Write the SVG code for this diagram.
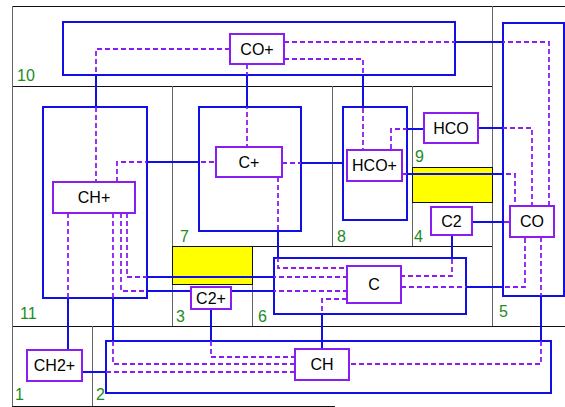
<svg xmlns="http://www.w3.org/2000/svg" width="565" height="407" viewBox="0 0 565 407">
<style>
.cellH{stroke:#111;stroke-width:1;fill:none}
.cellV{stroke:#666;stroke-width:1;fill:none}
.yel{fill:#ffff00;stroke:#111;stroke-width:1}
.comp{fill:none;stroke:#1010e6;stroke-width:2}
.dash{fill:none;stroke:#8a1ef0;stroke-width:1.8;stroke-dasharray:5,3}
.blue{fill:none;stroke:#1010e6;stroke-width:2}
.node rect{fill:#fff;stroke:#8a1ef0;stroke-width:2}
.node text{font-family:"Liberation Sans",Arial,sans-serif;font-size:16px;fill:#000;text-anchor:middle}
.lbl{font-family:"Liberation Sans",Arial,sans-serif;font-size:16px;fill:#228b22}
</style>
<rect width="565" height="407" fill="#fff"/>
<g id="cells">
<path class="cellH" d="M12,6.5H565M12,86.5H492M12,326.5H565M12,406.5H335M252,246.5H492"/>
<path class="cellV" d="M12.5,6V406M492.5,6V326M172.5,86V326M332.5,86V246M412.5,86V246M252.5,246V326M92.5,326V406"/>
<rect class="yel" x="172.5" y="246.5" width="80" height="38"/>
<rect class="yel" x="412.5" y="167.5" width="80" height="35"/>
</g>
<g id="labels">
<text class="lbl" x="17" y="81">10</text>
<text class="lbl" x="20" y="319">11</text>
<text class="lbl" x="180" y="242">7</text>
<text class="lbl" x="176" y="322">3</text>
<text class="lbl" x="258" y="322">6</text>
<text class="lbl" x="15" y="400">1</text>
<text class="lbl" x="96" y="400">2</text>
<text class="lbl" x="337" y="242">8</text>
<text class="lbl" x="414" y="242">4</text>
<text class="lbl" x="499" y="317">5</text>
<text class="lbl" x="415" y="162">9</text>
</g>
<g id="compartments">
<rect class="comp" x="63" y="22" width="392" height="53"/>
<rect class="comp" x="43" y="107" width="104" height="191"/>
<rect class="comp" x="199" y="107" width="102" height="124"/>
<rect class="comp" x="343" y="107" width="64" height="113"/>
<rect class="comp" x="503" y="23" width="61" height="273"/>
<rect class="comp" x="274" y="258" width="192" height="56"/>
<rect class="comp" x="106" y="341" width="445" height="52"/>
</g>
<g id="connectors">
<path class="dash" d="M230,49H96V182"/><path class="blue" d="M96,75V107"/>
<path class="dash" d="M247,64V147"/><path class="blue" d="M247,75V107"/>
<path class="dash" d="M117,182V162H216"/><path class="blue" d="M147,162H199"/>
<path class="dash" d="M282,163H347"/><path class="blue" d="M301,163H343"/>
<path class="dash" d="M278,177V268H347"/><path class="blue" d="M278,231V258"/>
<path class="dash" d="M68,213V350"/><path class="blue" d="M68,298V350"/>
<path class="dash" d="M113,213V364H295"/><path class="blue" d="M113,298V341"/>
<path class="dash" d="M121,213V291H191"/><path class="blue" d="M147,291H191"/>
<path class="dash" d="M231,291H347"/><path class="blue" d="M231,291H274"/>
<path class="dash" d="M127,213V277H347"/><path class="blue" d="M147,277H274"/>
<path class="dash" d="M347,299H322V349"/><path class="blue" d="M322,314V349"/>
<path class="dash" d="M211,309V357H295"/><path class="blue" d="M211,309V341"/>
<path class="dash" d="M82,372H295"/><path class="blue" d="M82,372H106"/>
<path class="dash" d="M541,237V364H349"/><path class="blue" d="M541,296V341"/>
<path class="dash" d="M401,287H525V237"/><path class="blue" d="M466,287H503"/>
<path class="dash" d="M452,235V276H401"/><path class="blue" d="M452,235V258"/>
<path class="dash" d="M472,222H510"/><path class="blue" d="M472,222H503"/>
<path class="dash" d="M402,174H515V206"/><path class="blue" d="M407,174H503"/>
<path class="dash" d="M478,128H532V206"/><path class="blue" d="M478,128H503"/>
<path class="dash" d="M284,42H549V206"/><path class="blue" d="M455,42H503"/>
<path class="dash" d="M284,59H363V150"/><path class="blue" d="M363,75V107"/>
<path class="dash" d="M424,129H391V150"/><path class="blue" d="M407,129H424"/>
</g>
<g id="n-COp" class="node"><rect x="230" y="34" width="54" height="30"/><text x="257" y="55">CO+</text></g>
<g id="n-Cp" class="node"><rect x="216" y="147" width="66" height="30"/><text x="249" y="168">C+</text></g>
<g id="n-CHp" class="node"><rect x="53" y="182" width="82" height="31"/><text x="94" y="203">CH+</text></g>
<g id="n-HCOp" class="node"><rect x="347" y="150" width="55" height="31"/><text x="374.5" y="171">HCO+</text></g>
<g id="n-HCO" class="node"><rect x="424" y="113" width="54" height="30"/><text x="451" y="134">HCO</text></g>
<g id="n-C2" class="node"><rect x="431" y="207" width="41" height="28"/><text x="451.5" y="227">C2</text></g>
<g id="n-CO" class="node"><rect x="510" y="206" width="44" height="31"/><text x="532" y="227">CO</text></g>
<g id="n-C" class="node"><rect x="347" y="266" width="54" height="37"/><text x="374" y="290">C</text></g>
<g id="n-C2p" class="node"><rect x="191" y="287" width="40" height="22"/><text x="211" y="304">C2+</text></g>
<g id="n-CH2p" class="node"><rect x="27" y="350" width="55" height="31"/><text x="54.5" y="371">CH2+</text></g>
<g id="n-CH" class="node"><rect x="295" y="349" width="54" height="31"/><text x="322" y="370">CH</text></g>
</svg>
